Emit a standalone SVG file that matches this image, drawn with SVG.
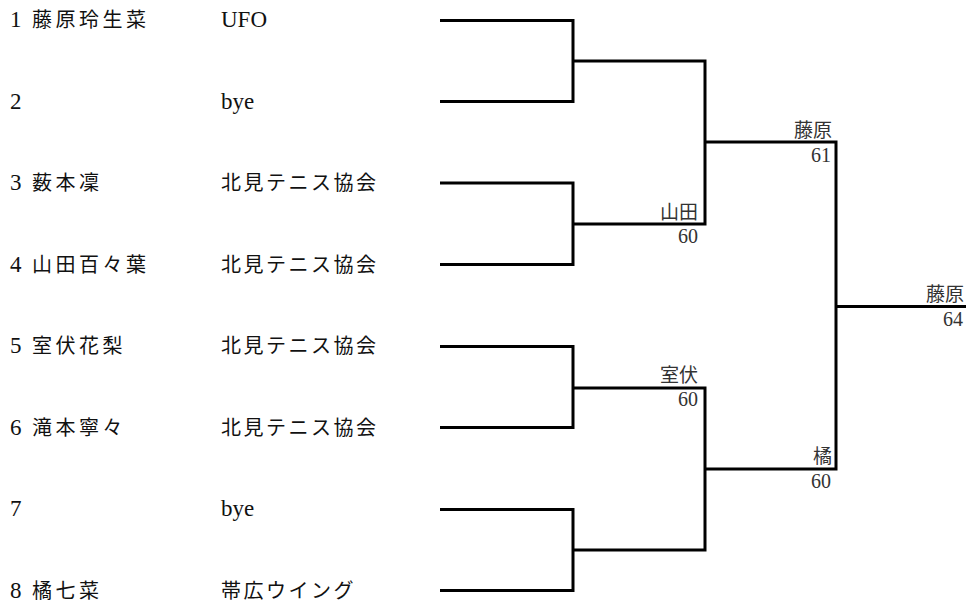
<svg xmlns="http://www.w3.org/2000/svg" width="966" height="608" viewBox="0 0 966 608">
<style>
.t{font-family:"Liberation Serif","Noto Sans CJK JP",serif;font-size:20px;fill:#111;letter-spacing:2.5px}
.m{letter-spacing:3.5px}
.n{font-family:"Liberation Serif",serif;font-size:23px;fill:#111}
.w{font-family:"Liberation Serif","Noto Sans CJK JP",serif;font-size:19px;fill:#333;text-anchor:end}
.d{font-size:20px}
.c path{fill:none;stroke:#000;stroke-width:3}
</style>
<rect width="966" height="608" fill="#fff"/>
<g id="p1"><text class="n" x="10" y="27">1</text><text class="t m" x="32" y="27">藤原玲生菜</text><text class="n" x="221" y="27">UFO</text></g>
<g id="p2"><text class="n" x="10" y="109">2</text><text class="n" x="221" y="109">bye</text></g>
<g id="p3"><text class="n" x="10" y="190">3</text><text class="t m" x="32" y="190">薮本凜</text><text class="t" x="221" y="190">北見テニス協会</text></g>
<g id="p4"><text class="n" x="10" y="272">4</text><text class="t m" x="32" y="272">山田百々葉</text><text class="t" x="221" y="272">北見テニス協会</text></g>
<g id="p5"><text class="n" x="10" y="353">5</text><text class="t m" x="32" y="353">室伏花梨</text><text class="t" x="221" y="353">北見テニス協会</text></g>
<g id="p6"><text class="n" x="10" y="435">6</text><text class="t m" x="32" y="435">滝本寧々</text><text class="t" x="221" y="435">北見テニス協会</text></g>
<g id="p7"><text class="n" x="10" y="516">7</text><text class="n" x="221" y="516">bye</text></g>
<g id="p8"><text class="n" x="10" y="598">8</text><text class="t m" x="32" y="598">橘七菜</text><text class="t" x="221" y="598">帯広ウイング</text></g>
<g class="c" id="connectors">
<path d="M440 20.5H573V101.5H440"/>
<path d="M440 183H573V264.5H440"/>
<path d="M440 346.5H573V427.5H440"/>
<path d="M440 509.5H573V590.5H440"/>
<path d="M573 61H705V224H573"/>
<path d="M573 388H705V550H573"/>
<path d="M705 142H836V469H705"/>
<path d="M836 306.5H966"/>
</g>
<g id="r1a"><text class="w" x="698" y="219">山田</text><text class="w d" x="698" y="243">60</text></g>
<g id="r1b"><text class="w" x="698" y="382">室伏</text><text class="w d" x="698" y="406">60</text></g>
<g id="r2a"><text class="w" x="832" y="137">藤原</text><text class="w d" x="831" y="162">61</text></g>
<g id="r2b"><text class="w" x="832" y="463">橘</text><text class="w d" x="831" y="488">60</text></g>
<g id="fin"><text class="w" x="964" y="301">藤原</text><text class="w d" x="963" y="326">64</text></g>
</svg>
